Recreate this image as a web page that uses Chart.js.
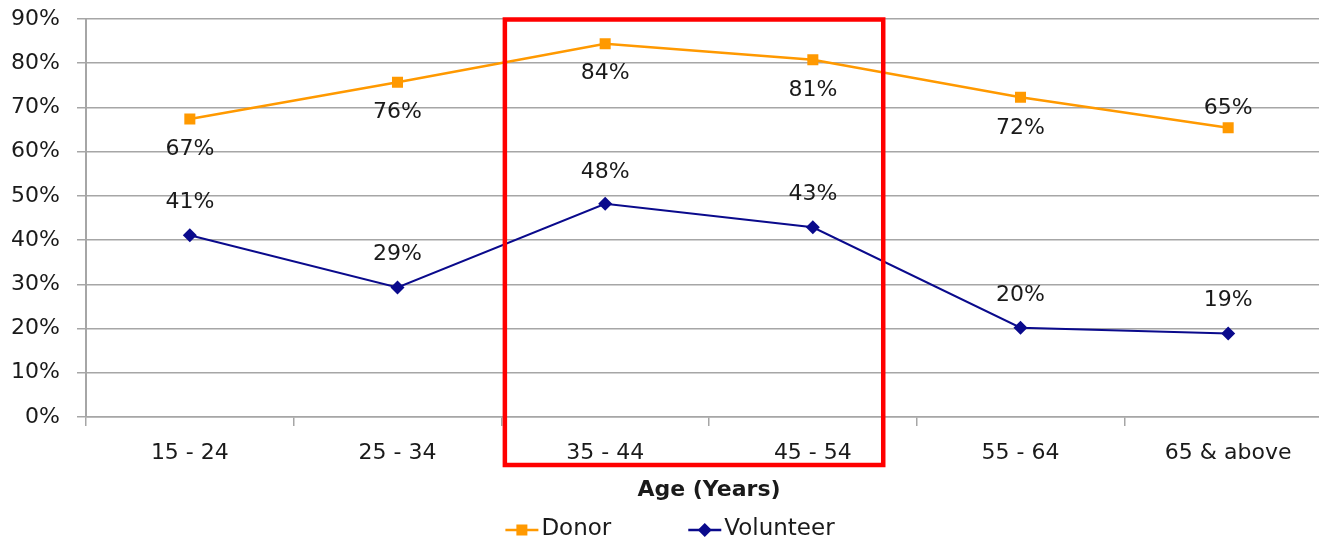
<!DOCTYPE html>
<html>
<head>
<meta charset="utf-8">
<script src="https://cdn.jsdelivr.net/npm/chart.js@4.4.1/dist/chart.umd.min.js"></script>
<style>
html,body{margin:0;padding:0;overflow:hidden;background:#ffffff;}
canvas{display:block;}
</style>
</head>
<body>
<canvas id="chart" width="1340" height="540"></canvas>
<script>
// ---- data ----
const categories = ['15 - 24', '25 - 34', '35 - 44', '45 - 54', '55 - 64', '65 & above'];
const donorValues = [67.4, 75.7, 84.4, 80.8, 72.3, 65.4];
const volunteerValues = [41.1, 29.3, 48.2, 42.9, 20.2, 18.9];
const donorLabels = ['67%', '76%', '84%', '81%', '72%', '65%'];
const volunteerLabels = ['41%', '29%', '48%', '43%', '20%', '19%'];
const seriesNames = ['Donor', 'Volunteer'];
const axisTitle = 'Age (Years)';
const yMin = 0, yMax = 90, yStep = 10;

// ---- style ----
const FONT = '"DejaVu Sans", "Noto Sans", sans-serif';
const TEXT = '#1a1a1a';
const GRID = '#a6a6a6';
const ORANGE = '#FF9900';
const NAVY = '#0A0A8C';

const dataLabelPlugin = {
  id: 'dataLabels',
  afterDatasetsDraw(chart, args, opts) {
    const ctx = chart.ctx;
    ctx.save();
    ctx.font = '22px ' + FONT;
    ctx.fillStyle = TEXT;
    ctx.textAlign = 'center';
    ctx.textBaseline = 'middle';
    chart.data.datasets.forEach((ds, di) => {
      const meta = chart.getDatasetMeta(di);
      const offs = opts.offsets[di];
      meta.data.forEach((pt, i) => {
        ctx.fillText(ds.valueLabels[i], pt.x, pt.y + offs[i]);
      });
    });
    ctx.restore();
  }
};

const highlightPlugin = {
  id: 'highlightBox',
  afterDraw(chart, args, opts) {
    const x = chart.scales.x, y = chart.scales.y;
    const ctx = chart.ctx;
    const left = x.getPixelForValue(opts.from);
    const right = x.getPixelForValue(opts.to);
    const top = y.getPixelForValue(yMax) + 0.5;
    const bottom = chart.chartArea.bottom + 48;
    ctx.save();
    ctx.strokeStyle = '#FF0000';
    ctx.lineWidth = 4.5;
    ctx.strokeRect(left, top, right - left, bottom - top);
    ctx.restore();
  }
};

function drawMarker(ctx, style, cx, cy, color) {
  ctx.fillStyle = color;
  if (style === 'rect') {
    ctx.fillRect(cx - 5.5, cy - 5.5, 11, 11);
  } else {
    ctx.beginPath();
    ctx.moveTo(cx, cy - 7);
    ctx.lineTo(cx + 7, cy);
    ctx.lineTo(cx, cy + 7);
    ctx.lineTo(cx - 7, cy);
    ctx.closePath();
    ctx.fill();
  }
}

const legendPlugin = {
  id: 'lineLegend',
  afterDraw(chart, args, opts) {
    const ctx = chart.ctx;
    ctx.save();
    ctx.font = '23px ' + FONT;
    ctx.textBaseline = 'middle';
    ctx.textAlign = 'left';
    const lineW = 33, gapText = 3, gapItem = 77;
    const items = chart.data.datasets.map(ds => ({ds, w: ctx.measureText(ds.label).width}));
    let total = 0;
    items.forEach((it, i) => { total += lineW + gapText + it.w + (i < items.length - 1 ? gapItem : 0); });
    let x = chart.width / 2 - total / 2;
    const y = opts.y;
    items.forEach(it => {
      ctx.strokeStyle = it.ds.borderColor;
      ctx.lineWidth = 2.5;
      ctx.beginPath();
      ctx.moveTo(x, y + 1);
      ctx.lineTo(x + lineW, y + 1);
      ctx.stroke();
      drawMarker(ctx, it.ds.pointStyle, x + lineW / 2, y + 1, it.ds.borderColor);
      ctx.fillStyle = TEXT;
      ctx.fillText(it.ds.label, x + lineW + gapText, y);
      x += lineW + gapText + it.w + gapItem;
    });
    ctx.restore();
  }
};

function zeroPad(scale) {
  scale.paddingTop = 0;
  scale.paddingBottom = 0;
}

new Chart(document.getElementById('chart'), {
  type: 'line',
  data: {
    labels: categories,
    datasets: [
      {
        label: seriesNames[0],
        data: donorValues,
        valueLabels: donorLabels,
        borderColor: ORANGE,
        backgroundColor: ORANGE,
        borderWidth: 2.5,
        pointStyle: 'rect',
        pointRadius: 7.8,
        pointBorderWidth: 0,
        pointHoverRadius: 7.8,
        tension: 0
      },
      {
        label: seriesNames[1],
        data: volunteerValues,
        valueLabels: volunteerLabels,
        borderColor: NAVY,
        backgroundColor: NAVY,
        borderWidth: 2,
        pointStyle: 'rectRot',
        pointRadius: 7,
        pointBorderWidth: 0,
        pointHoverRadius: 7,
        tension: 0
      }
    ]
  },
  options: {
    responsive: false,
    animation: false,
    layout: { padding: { top: 19, right: 8, left: 0, bottom: 0 } },
    plugins: {
      legend: { display: false },
      tooltip: { enabled: false },
      dataLabels: { offsets: [[30, 30, 30, 31, 31, -20], [-33, -33, -32, -33, -32, -33]] },
      highlightBox: { from: 1.517, to: 3.339 },
      lineLegend: { y: 529 }
    },
    scales: {
      x: {
        offset: true,
        grid: { offset: true, drawOnChartArea: false, drawTicks: true, tickLength: 9, color: GRID, lineWidth: 1.5 },
        border: { color: GRID, width: 1.5 },
        ticks: { color: TEXT, font: { family: FONT, size: 22 }, padding: 14, maxRotation: 0, autoSkip: false },
        title: { display: true, text: axisTitle, color: TEXT, font: { family: FONT, size: 22, weight: 'bold' }, padding: { top: 0, bottom: 37 } },
        afterFit(scale) { scale.height = 123; zeroPad(scale); }
      },
      y: {
        min: yMin,
        max: yMax,
        ticks: { stepSize: yStep, color: TEXT, font: { family: FONT, size: 22 }, padding: 17, callback: v => v + '%' },
        grid: { color: GRID, lineWidth: 1.5, tickLength: 9 },
        border: { color: GRID, width: 2 },
        afterFit(scale) { scale.width = 86; zeroPad(scale); }
      }
    }
  },
  plugins: [dataLabelPlugin, highlightPlugin, legendPlugin]
});
</script>
</body>
</html>
